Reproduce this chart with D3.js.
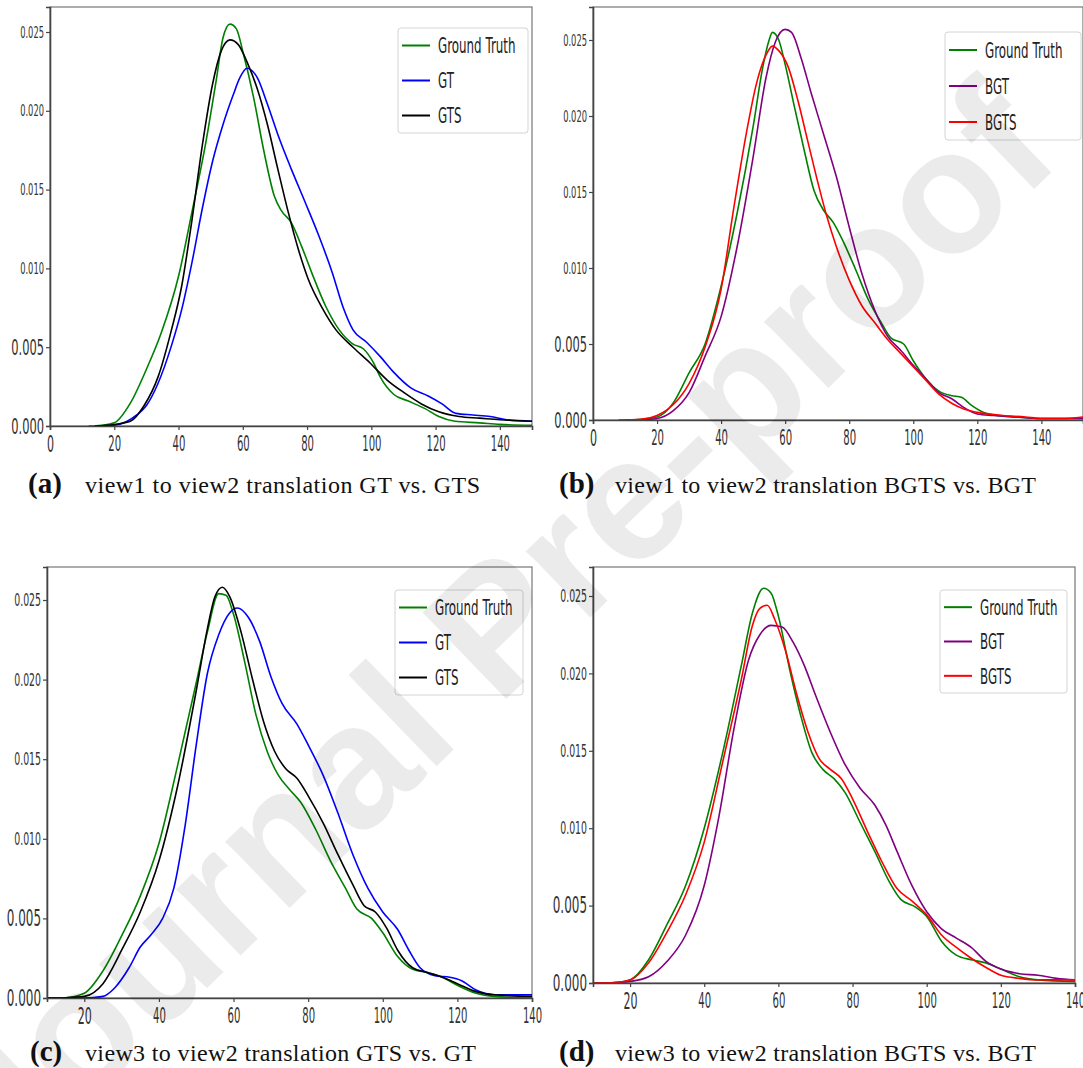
<!DOCTYPE html>
<html>
<head>
<meta charset="utf-8">
<script src="https://cdn.jsdelivr.net/npm/d3@7"></script>
<style>
  body { margin: 0; background: #fff; }
  svg { display: block; }
</style>
</head>
<body>
<svg id="fig" width="1083" height="1068"></svg>
<script>
// ---- data ----
const yTicks = [0, 0.005, 0.010, 0.015, 0.020, 0.025];
const xTicksTop = [0, 20, 40, 60, 80, 100, 120, 140];
const xTicksBottom = [20, 40, 60, 80, 100, 120, 140];

// (a) view1 -> view2, GT vs GTS
const aGround = [[12,0],[16,0.00005],[20,0.0002],[25,0.00145],[30,0.0036],[34.6,0.0059],[40,0.0095],[44.2,0.0136],[48.5,0.018],[51.7,0.0219],[53.8,0.0246],[56,0.0255],[58,0.0252],[60.2,0.0236],[63.4,0.0208],[66.6,0.0174],[69.8,0.0146],[71.9,0.0137],[75.1,0.0129],[78.3,0.0114],[81.5,0.0097],[85.8,0.0076],[90,0.0061],[94.3,0.0052],[97.5,0.0049],[100.7,0.004],[102.8,0.0031],[107,0.002],[111.3,0.0016],[116.7,0.0011],[121,0.0006],[126,0.0003],[133.7,0.0002],[140,0.0001],[150,0.00005]];
const aGT = [[14,0],[20,0.00005],[24,0.0003],[27,0.0007],[30,0.0013],[33.6,0.0027],[37.8,0.0051],[41,0.0074],[44.2,0.0104],[47.4,0.0138],[50.6,0.0168],[53.8,0.0191],[57,0.021],[59.1,0.0221],[61.3,0.0227],[64.5,0.0221],[67.7,0.0204],[70.9,0.0185],[75.1,0.0163],[79.4,0.0142],[83.6,0.0121],[87.9,0.0097],[91.1,0.0076],[94.3,0.0061],[98.6,0.0053],[102.8,0.0044],[107,0.0034],[112.4,0.0024],[117.7,0.0019],[122,0.0014],[126.3,0.0008],[131.6,0.0007],[137,0.0006],[142,0.0004],[150,0.0003]];
const aGTS = [[14,0],[20,0.0001],[25,0.0003],[29.3,0.0013],[33.6,0.0031],[37.8,0.0061],[41,0.0089],[44.2,0.0131],[47.4,0.0178],[50.6,0.0217],[53.3,0.0238],[56,0.0245],[58.6,0.0242],[61.3,0.0231],[64.5,0.0214],[67.7,0.0191],[70.9,0.0163],[74.1,0.0136],[77.3,0.0112],[80.4,0.0093],[84.7,0.0075],[89,0.0061],[94.3,0.005],[99.6,0.004],[105,0.0029],[110.3,0.0021],[115.6,0.0014],[121,0.0009],[127.3,0.0006],[133.7,0.0005],[140,0.0004],[150,0.0003]];

// (b) view1 -> view2, BGTS vs BGT
const bGround = [[10,0],[15,0.00005],[20,0.0002],[25,0.0011],[30,0.0031],[35,0.005],[40,0.0088],[45,0.0136],[50,0.0193],[53,0.0232],[55,0.025],[56,0.0255],[58,0.025],[60,0.0234],[63,0.0205],[66,0.0177],[69,0.0151],[72,0.0138],[75,0.013],[78,0.0118],[82,0.0099],[86,0.0079],[90,0.0064],[93,0.0054],[97,0.005],[100,0.0039],[104,0.0027],[108,0.0019],[112,0.0016],[115,0.0015],[118,0.001],[122,0.0005],[126,0.0003],[132,0.0002],[140,0.0001],[153,0.0001]];
const bBGT = [[10,0],[15,0.00002],[20,0.0001],[25,0.0006],[30,0.0018],[35,0.0042],[40,0.0068],[45,0.0114],[50,0.0173],[54,0.0225],[57,0.0249],[60,0.0257],[62,0.0255],[65,0.0238],[68,0.0216],[72,0.0188],[76,0.016],[80,0.0127],[84,0.0096],[88,0.0072],[92,0.0055],[96,0.0046],[100,0.0036],[104,0.0027],[108,0.0018],[112,0.0014],[116,0.0008],[120,0.0004],[125,0.0003],[132,0.0002],[140,0.0001],[153,0.0001]];
const bBGTS = [[8,0],[15,0.00005],[20,0.0003],[25,0.001],[30,0.0024],[35,0.0048],[40,0.0086],[44,0.014],[48,0.019],[51,0.0221],[54,0.024],[56,0.0246],[58,0.0243],[61,0.0232],[64,0.021],[67,0.0184],[70,0.0158],[73,0.0134],[76,0.0114],[80,0.0092],[84,0.0075],[88,0.0064],[92,0.0053],[96,0.0044],[100,0.0035],[104,0.0026],[108,0.0017],[112,0.0011],[116,0.0007],[120,0.0005],[128,0.0003],[135,0.0002],[140,0.0001],[146,0.0001],[153,0.0002]];

// (c) view3 -> view2, GTS vs GT
const cGround = [[10,0],[15,0.00002],[20,0.0003],[25,0.0017],[30,0.0039],[35,0.0064],[40,0.0097],[45,0.0146],[50,0.0198],[53,0.023],[56,0.0254],[58,0.0253],[60,0.0241],[63,0.0211],[66,0.0178],[69,0.0155],[72,0.014],[75,0.0131],[78,0.0123],[82,0.0106],[86,0.0086],[90,0.0069],[93,0.0056],[97,0.005],[100,0.0041],[104,0.0026],[108,0.0018],[112,0.0016],[116,0.0013],[120,0.0008],[125,0.0003],[130,0.0001],[140,0]];
const cGT = [[10,0],[20,0],[25,0.0001],[28,0.0006],[32,0.0019],[35,0.0032],[38,0.004],[41,0.005],[44,0.0069],[47,0.0108],[50,0.0159],[53,0.0204],[56,0.0228],[59,0.0242],[61,0.0245],[64,0.0239],[67,0.0224],[70,0.0202],[73,0.0185],[77,0.0172],[80,0.0159],[84,0.014],[88,0.0116],[92,0.009],[96,0.0069],[100,0.0054],[104,0.0043],[107,0.003],[110,0.0019],[114,0.0014],[118,0.0013],[121,0.0011],[125,0.0005],[130,0.0002],[135,0.0002],[140,0.0002]];
const cGTS = [[10,0],[15,0.00002],[20,0.0001],[25,0.0009],[30,0.003],[35,0.0054],[40,0.0086],[45,0.0133],[50,0.0193],[53,0.0232],[55,0.0252],[57,0.0258],[59,0.0252],[62,0.023],[65,0.0201],[68,0.0174],[71,0.0155],[74,0.0144],[77,0.0138],[80,0.0127],[84,0.011],[88,0.009],[92,0.0071],[95,0.0058],[98,0.0054],[101,0.0044],[104,0.003],[108,0.0019],[112,0.0016],[116,0.0013],[120,0.0009],[125,0.0004],[130,0.0002],[140,0.0001]];

// (d) view3 -> view2, BGTS vs BGT
const dGround = [[10,0],[15,0.00002],[20,0.0002],[25,0.0015],[30,0.0038],[35,0.0063],[40,0.01],[45,0.0149],[50,0.0205],[53,0.0239],[56,0.0255],[58,0.0252],[60,0.0237],[63,0.0203],[66,0.0173],[69,0.0149],[72,0.0138],[75,0.0132],[78,0.0123],[82,0.0104],[86,0.0085],[90,0.0065],[93,0.0054],[97,0.0049],[100,0.0043],[104,0.0027],[108,0.0018],[112,0.0015],[116,0.0013],[120,0.0009],[125,0.0004],[130,0.0002],[140,0.0001]];
const dBGT = [[10,0],[15,0.00002],[20,0.0001],[25,0.0004],[30,0.0014],[35,0.0031],[40,0.0063],[44,0.0108],[48,0.0164],[52,0.0209],[55,0.0225],[58,0.0231],[61,0.023],[64,0.022],[67,0.0205],[70,0.0186],[74,0.0162],[78,0.0141],[82,0.0126],[86,0.0115],[89,0.0102],[92,0.0085],[96,0.0063],[100,0.0046],[104,0.0035],[108,0.0029],[112,0.0023],[116,0.0014],[120,0.0009],[125,0.0006],[130,0.0005],[135,0.0003],[140,0.0002]];
const dBGTS = [[10,0],[15,0.00002],[20,0.0002],[25,0.0013],[30,0.0033],[35,0.0057],[40,0.0091],[45,0.0143],[50,0.0196],[53,0.0231],[55,0.0242],[57,0.0244],[59,0.0235],[62,0.0214],[65,0.0186],[68,0.0162],[71,0.0145],[74,0.0138],[77,0.0132],[80,0.0119],[84,0.0098],[88,0.0078],[92,0.0061],[96,0.0053],[100,0.0044],[104,0.0031],[108,0.0023],[112,0.0016],[116,0.001],[120,0.0005],[125,0.0003],[130,0.0002],[140,0.0002]];

const captionLetters = ['(a)', '(b)', '(c)', '(d)'];
const captionTexts = [
  'view1 to view2 translation GT vs. GTS',
  'view1 to view2 translation BGTS vs. BGT',
  'view3 to view2 translation GTS vs. GT',
  'view3 to view2 translation BGTS vs. BGT'
];

// ---- layout of the four panels ----
const SQ = 0.52;   // the picture is squeezed sideways, so its sans text is too

const panels = [
  { left: 50, right: 532, top: 7, bottom: 426, y25: 32, xDom: [0, 150], xTicks: xTicksTop,
    yFont: [16, 22],
    series: [['Ground Truth', 'green', aGround], ['GT', 'blue', aGT], ['GTS', 'black', aGTS]],
    legend: { x: 398, y: 28, w: 130, h: 105 }, cap: { x: 28, tx: 85, y: 493, len: 395 } },
  { left: 593, right: 1083, top: 7, bottom: 420, y25: 40, xDom: [0, 153], xTicks: xTicksTop,
    yFont: [16, 22],
    series: [['Ground Truth', 'green', bGround], ['BGT', 'purple', bBGT], ['BGTS', 'red', bBGTS]],
    legend: { x: 945, y: 32, w: 136, h: 108 }, cap: { x: 559, tx: 615, y: 493, len: 421 } },
  { left: 47, right: 532, top: 567, bottom: 998, y25: 600, xDom: [10, 140], xTicks: xTicksBottom,
    yFont: [18, 23],
    series: [['Ground Truth', 'green', cGround], ['GT', 'blue', cGT], ['GTS', 'black', cGTS]],
    legend: { x: 395, y: 590, w: 128, h: 105 }, cap: { x: 30, tx: 85, y: 1061, len: 391 } },
  { left: 593, right: 1075, top: 567, bottom: 983, y25: 596, xDom: [10, 140], xTicks: xTicksBottom,
    yFont: [18, 23],
    series: [['Ground Truth', 'green', dGround], ['BGT', 'purple', dBGT], ['BGTS', 'red', dBGTS]],
    legend: { x: 940, y: 590, w: 127, h: 103 }, cap: { x: 559, tx: 615, y: 1061, len: 421 } }
];

const svg = d3.select('#fig');

panels.forEach((p, i) => {
  const g = svg.append('g');

  const x = d3.scaleLinear().domain(p.xDom).range([p.left, p.right]);
  const pxPerUnit = (p.bottom - p.y25) / 0.025;
  const y = d3.scaleLinear().domain([0, (p.bottom - p.top) / pxPerUnit]).range([p.bottom, p.top]);

  // frame
  g.append('rect')
    .attr('x', p.left).attr('y', p.top)
    .attr('width', p.right - p.left).attr('height', p.bottom - p.top)
    .attr('fill', 'none').attr('stroke', '#777').attr('stroke-width', 1.2);

  const clipId = 'clip' + i;
  g.append('clipPath').attr('id', clipId).append('rect')
    .attr('x', p.left).attr('y', p.top)
    .attr('width', p.right - p.left).attr('height', p.bottom - p.top);

  const line = d3.line()
    .x(d => x(d[0]))
    .y(d => y(d[1]))
    .curve(d3.curveMonotoneX);

  g.append('g').attr('clip-path', `url(#${clipId})`)
    .selectAll('path')
    .data(p.series)
    .join('path')
    .attr('d', d => line(d[2]))
    .attr('fill', 'none')
    .attr('stroke', d => d[1])
    .attr('stroke-width', 1.6);

  // axes
  const yAxis = g.append('g')
    .attr('transform', `translate(${p.left},0)`)
    .call(d3.axisLeft(y).tickValues(yTicks).tickSize(4).tickFormat(d3.format('.3f')));
  const xAxis = g.append('g')
    .attr('transform', `translate(0,${p.bottom})`)
    .call(d3.axisBottom(x).tickValues(p.xTicks).tickSize(4));

  [yAxis, xAxis].forEach(a => {
    a.attr('font-family', 'DejaVu Sans, sans-serif');
    a.select('.domain').attr('stroke', '#444').attr('stroke-width', 1.6);
    a.selectAll('.tick line').attr('stroke', '#444').attr('stroke-width', 1.2);
    a.selectAll('.tick text').attr('fill', '#333');
  });

  yAxis.selectAll('.tick text')
    .attr('x', null)
    .attr('font-size', d => d <= 0.005 ? p.yFont[1] : p.yFont[0])
    .attr('transform', `translate(-6,0) scale(${SQ},1)`);

  xAxis.selectAll('.tick text')
    .attr('y', null)
    .attr('font-size', (d, k) => k === 0 ? 23 : 21)
    .attr('transform', `translate(0,10) scale(${SQ - 0.04},1)`);

  // legend
  const L = p.legend;
  const lg = g.append('g');
  lg.append('rect')
    .attr('x', L.x).attr('y', L.y).attr('width', L.w).attr('height', L.h)
    .attr('rx', 3)
    .attr('fill', '#fff').attr('fill-opacity', 0.85)
    .attr('stroke', '#d4d4d4');
  const rowH = L.h / 3;
  const rows = lg.selectAll('g.row')
    .data(p.series)
    .join('g')
    .attr('class', 'row')
    .attr('transform', (d, k) => `translate(${L.x},${L.y + rowH * (k + 0.5)})`);
  rows.append('line')
    .attr('x1', 4).attr('x2', 32)
    .attr('stroke', d => d[1]).attr('stroke-width', 2);
  rows.append('text')
    .attr('transform', `translate(40,0) scale(0.54,1)`)
    .attr('dy', '0.36em')
    .attr('font-family', 'DejaVu Sans, sans-serif')
    .attr('font-size', 22)
    .attr('fill', '#222')
    .text(d => d[0]);

  // caption
  svg.append('text')
    .attr('x', p.cap.x).attr('y', p.cap.y)
    .attr('font-family', 'Liberation Serif, DejaVu Serif, serif')
    .attr('font-weight', 'bold').attr('font-size', 29)
    .attr('fill', '#111')
    .text(captionLetters[i]);
  svg.append('text')
    .attr('x', p.cap.tx).attr('y', p.cap.y)
    .attr('font-family', 'Liberation Serif, DejaVu Serif, serif')
    .attr('font-size', 24)
    .attr('textLength', p.cap.len).attr('lengthAdjust', 'spacing')
    .attr('fill', '#111')
    .text(captionTexts[i]);
});

// "Journal Pre-proof" watermark laid over the page
svg.append('text')
  .attr('transform', 'translate(8,1180) rotate(-44)')
  .attr('font-family', 'Liberation Sans, Arial, sans-serif')
  .attr('font-weight', 'bold')
  .attr('font-size', 175)
  .attr('fill', '#000')
  .attr('fill-opacity', 0.08)
  .text('Journal Pre-proof');
</script>
</body>
</html>
